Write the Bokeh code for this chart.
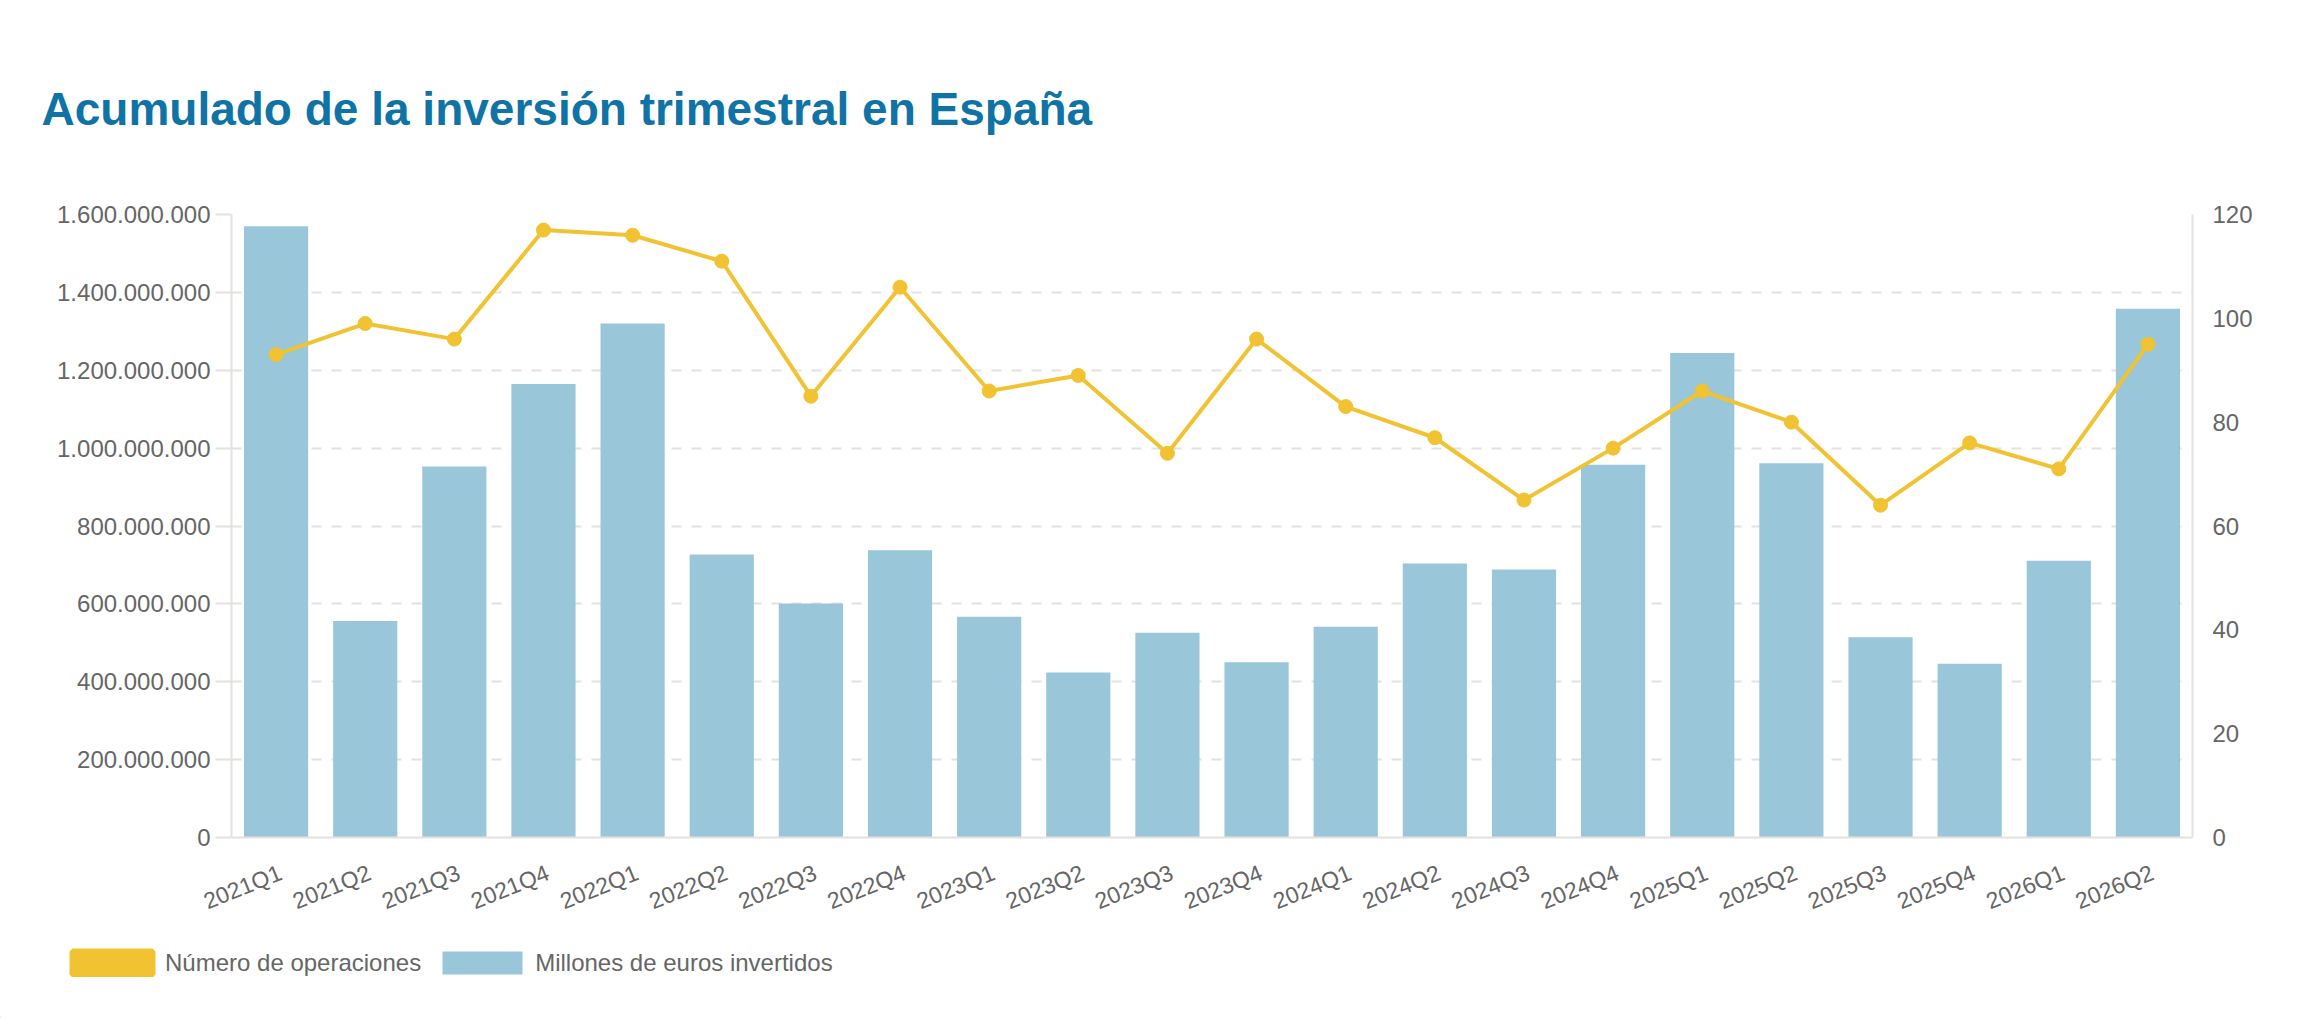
from bokeh.plotting import figure
from bokeh.layouts import column
from bokeh.models import (Range1d, LinearAxis, FixedTicker, CustomJSTickFormatter,
                          Legend, LegendItem, ColumnDataSource, Title)
from bokeh.embed import file_html
from bokeh.resources import INLINE

quarters = ["2021Q1", "2021Q2", "2021Q3", "2021Q4", "2022Q1", "2022Q2", "2022Q3", "2022Q4",
            "2023Q1", "2023Q2", "2023Q3", "2023Q4", "2024Q1", "2024Q2", "2024Q3", "2024Q4",
            "2025Q1", "2025Q2", "2025Q3", "2025Q4", "2026Q1", "2026Q2"]
inversion = [1570e6, 556e6, 953e6, 1165e6, 1320e6, 727e6, 601e6, 738e6,
             567e6, 424e6, 526e6, 450e6, 541e6, 704e6, 688e6, 957e6,
             1244e6, 961e6, 514e6, 446e6, 711e6, 1358e6]
operaciones = [93, 99, 96, 117, 116, 111, 85, 106, 86, 89, 74, 96,
               83, 77, 65, 75, 86, 80, 64, 76, 71, 95]
left_ticks = [0, 200e6, 400e6, 600e6, 800e6, 1000e6, 1200e6, 1400e6, 1600e6]
right_ticks = [0, 20, 40, 60, 80, 100, 120]

title_text = "Acumulado de la inversión trimestral en España"
label_ops = "Número de operaciones"
label_inv = "Millones de euros invertidos"

BAR = "#9ac6da"
LINE = "#f1c232"
GRID = "#e4e2de"
TXT = "#666666"
FONT = "Liberation Sans"
LABEL_SHIFT = 0.05  # compensation for rotated-label anchoring

n = len(quarters)
pos = [i + 0.5 for i in range(n)]  # category slot centres
src = ColumnDataSource(dict(x=pos, q=quarters, inv=inversion, ops=operaciones))

p = figure(width=2310, height=935, x_range=Range1d(0, n),
           y_range=Range1d(0, 1.6e9), output_backend="svg", toolbar_location=None,
           min_border_left=231, min_border_right=118, min_border_top=214,
           min_border_bottom=98, title=None)
p.outline_line_color = None
p.background_fill_color = "white"
p.border_fill_color = "white"

p.extra_y_ranges = {"ops": Range1d(0, 120)}

t = Title(text=title_text, align="left", offset=-190, standoff=159,
          text_font=FONT, text_font_size="46px", text_font_style="bold",
          text_color="#0f73a6")
p.add_layout(t, "above")

bars = p.vbar(x="x", top="inv", width=0.72, source=src, fill_color=BAR, line_color=None)
line = p.line(x="x", y="ops", source=src, y_range_name="ops", line_color=LINE, line_width=4)
pts = p.scatter(x="x", y="ops", source=src, y_range_name="ops", size=14,
                fill_color=LINE, line_color=LINE)

# left axis
ya = p.yaxis[0]
ya.ticker = FixedTicker(ticks=left_ticks)
ya.formatter = CustomJSTickFormatter(
    code="return Math.round(tick).toString().replace(/\\B(?=(\\d{3})+(?!\\d))/g, '.');")
ya.major_label_text_font = FONT
ya.major_label_text_font_size = "24px"
ya.major_label_text_color = TXT
ya.axis_line_color = GRID
ya.axis_line_width = 2
ya.major_tick_out = 16
ya.major_tick_in = 0
ya.major_tick_line_color = GRID
ya.major_tick_line_width = 2
ya.minor_tick_line_color = None
ya.major_label_standoff = 5

# right axis
ra = LinearAxis(y_range_name="ops", ticker=FixedTicker(ticks=right_ticks))
ra.major_label_text_font = FONT
ra.major_label_text_font_size = "24px"
ra.major_label_text_color = TXT
ra.axis_line_color = GRID
ra.axis_line_width = 2
ra.major_tick_line_color = None
ra.minor_tick_line_color = None
ra.major_label_standoff = 14
p.add_layout(ra, "right")

# x axis with quarter labels
xa = p.xaxis[0]
xa.ticker = FixedTicker(ticks=[v + LABEL_SHIFT for v in pos])
xa.formatter = CustomJSTickFormatter(
    args=dict(labels=quarters, shift=LABEL_SHIFT),
    code="return labels[Math.round(tick - shift - 0.5)];")
xa.major_label_orientation = 0.384
xa.major_label_text_font = FONT
xa.major_label_text_font_size = "23px"
xa.major_label_text_color = TXT
xa.axis_line_color = GRID
xa.axis_line_width = 2
xa.major_tick_line_color = None
xa.minor_tick_line_color = None
xa.major_label_standoff = 28

p.xgrid.grid_line_color = None
p.ygrid.grid_line_color = GRID
p.ygrid.grid_line_width = 2
p.ygrid.grid_line_dash = "10 10"

# legend strip (own frame spans the whole strip)
lg = figure(width=2310, height=83, x_range=Range1d(0, 1), y_range=Range1d(0, 1),
            output_backend="svg", toolbar_location=None,
            min_border_left=0, min_border_right=0, min_border_top=0, min_border_bottom=0)
lg.frame_align = False
lg.axis.visible = False
lg.grid.visible = False
lg.outline_line_color = None
# legend keys: placeholder glyphs kept outside the visible range
sw_ops = lg.vbar(x=[-5], top=[0], width=0.1, fill_color=LINE, line_color=LINE, line_width=6)
sw_inv = lg.vbar(x=[-5], top=[0], width=0.1, fill_color=BAR, line_color=None)
legend = Legend(items=[LegendItem(label=label_ops, renderers=[sw_ops]),
                       LegendItem(label=label_inv, renderers=[sw_inv])],
                orientation="horizontal", location=(62, 41),
                glyph_width=100, glyph_height=29, label_standoff=3, spacing=11,
                padding=0, margin=0, border_line_color=None, background_fill_alpha=0,
                label_text_font=FONT, label_text_font_size="24px", label_text_color=TXT)
lg.add_layout(legend, "center")

layout = column(p, lg, spacing=0)
open("out.html", "w").write(file_html(layout, INLINE))
